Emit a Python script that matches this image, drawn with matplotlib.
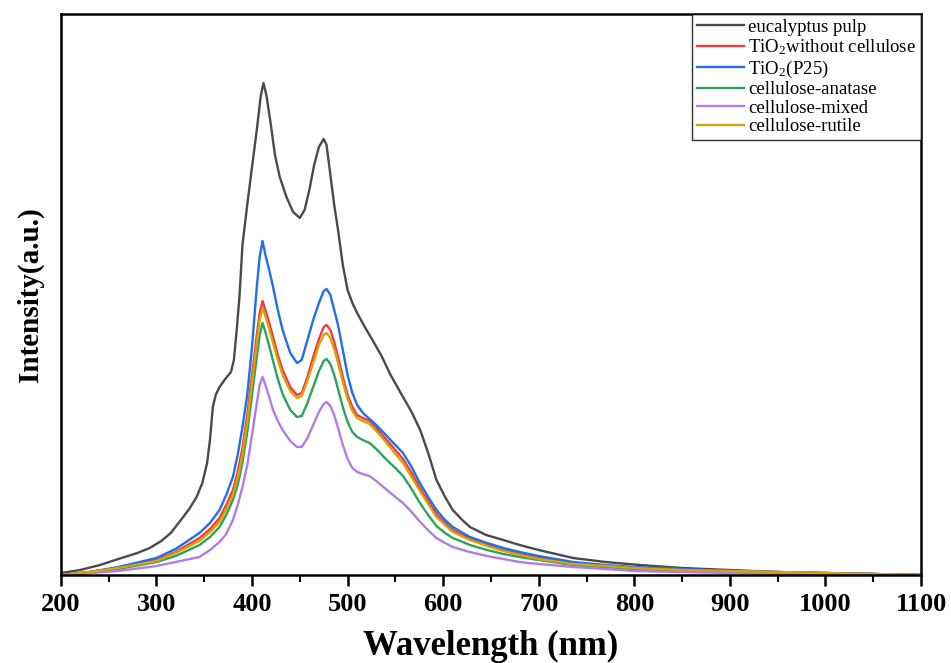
import numpy as np
import matplotlib
matplotlib.use('Agg')
import matplotlib.pyplot as plt
from matplotlib.ticker import MultipleLocator

# ---- data (intensity in arbitrary units) ----
wl_pulp = [200, 220, 241, 260, 280, 293, 305, 315, 328, 335, 342, 348, 353, 356, 359,
           362, 366, 372, 378, 381, 384, 387, 390, 395, 400, 405, 409, 412, 415, 419,
           424, 429, 436, 443, 450, 455, 460, 465, 470, 475, 478, 482, 486, 490, 495,
           500, 505, 510, 518, 526, 535, 545, 558, 567, 576, 585, 593, 602, 610, 620,
           628, 645, 663, 680, 700, 736, 770, 806, 850, 900, 950, 1000, 1050, 1100]
pulp = [2, 5, 10, 16, 22, 27, 34, 42, 58, 67, 78, 92, 112, 135, 168,
        180, 188, 196, 203, 215, 245, 280, 330, 370, 408, 445, 478, 492, 480, 455,
        420, 398, 378, 363, 357, 365, 385, 410, 428, 436, 430, 400, 370, 345, 310,
        285, 272, 262, 248, 235, 220, 200, 178, 163, 145, 120, 95, 78, 65, 55,
        48, 40, 35, 30, 25, 17, 13, 10, 7, 5, 3, 2, 1, 0]

wl = [200, 230, 260, 300, 320, 345, 356, 366, 373, 380, 385, 390, 395, 400, 405,
      408, 411, 414, 418, 422, 427, 432, 440, 447, 452, 458, 464, 470, 475, 478,
      482, 486, 490, 495, 500, 505, 510, 516, 523, 530, 540, 550, 558, 567, 575,
      585, 593, 602, 610, 628, 646, 663, 680, 700, 736, 770, 800, 850, 900, 950,
      1000, 1050, 1100]
tio2_nocell = [0, 3, 7, 15, 23, 37, 46, 57, 70, 85, 103, 127, 160, 200, 240,
               262, 274, 265, 252, 238, 220, 205, 188, 180, 182, 198, 218, 236, 248, 250,
               245, 233, 218, 198, 180, 168, 160, 157, 154, 147, 136, 125, 116, 102, 88,
               73, 61, 52, 45, 36, 30, 25, 21, 17, 12, 9, 7, 5, 4, 3,
               2, 1, 0]
tio2_p25 = [0, 3, 8, 17, 26, 42, 52, 65, 80, 98, 120, 148, 180, 228, 288,
            318, 334, 320, 305, 288, 265, 245, 222, 212, 215, 235, 255, 272, 284, 286,
            280, 265, 250, 225, 200, 182, 170, 162, 156, 150, 140, 130, 122, 108, 93,
            77, 65, 55, 48, 38, 32, 27, 23, 19, 13, 10, 8, 6, 4, 3,
            2, 1, 0]
cell_anatase = [0, 2, 6, 13, 19, 30, 38, 48, 60, 75, 90, 112, 143, 180, 218,
                240, 252, 243, 229, 214, 196, 181, 165, 158, 159, 172, 188, 204, 214, 216,
                211, 200, 186, 168, 153, 143, 138, 135, 132, 126, 116, 107, 99, 86, 73,
                59, 49, 42, 37, 30, 25, 21, 18, 15, 10, 8, 6, 4, 3, 2,
                1, 1, 0]
cell_mixed = [0, 2, 4, 9, 13, 18, 25, 33, 41, 55, 70, 88, 110, 140, 172,
              190, 198, 190, 178, 165, 154, 145, 134, 128, 128, 137, 150, 163, 171, 173,
              169, 160, 147, 130, 116, 107, 103, 101, 99, 94, 86, 78, 72, 63, 54,
              44, 37, 32, 28, 23, 19, 16, 13, 11, 8, 6, 4, 3, 2, 1,
              1, 0, 0]
cell_rutile = [0, 3, 7, 14, 22, 34, 43, 53, 66, 80, 97, 120, 153, 192, 232,
               255, 267, 259, 246, 232, 215, 200, 184, 177, 179, 194, 212, 230, 240, 242,
               237, 226, 212, 193, 176, 164, 157, 154, 151, 144, 133, 121, 112, 98, 85,
               70, 58, 50, 43, 35, 29, 24, 20, 16, 11, 9, 7, 5, 4, 3,
               2, 1, 0]

labels = ['eucalyptus pulp', r'TiO$_\mathregular{2}$without cellulose',
          r'TiO$_\mathregular{2}$(P25)', 'cellulose-anatase',
          'cellulose-mixed', 'cellulose-rutile']
colors = ['#4a4a4a', '#f03c3c', '#1f6fe8', '#2ca25f', '#b27ce6', '#d9a20a']

plt.rcParams.update({
    'font.family': 'Liberation Serif',
    'mathtext.fontset': 'stix',
})

fig = plt.figure(figsize=(9.51, 6.63), dpi=100)
ax = fig.add_axes([0.064, 0.1327, 0.9045, 0.8463])

series = [(wl_pulp, pulp), (wl, tio2_nocell), (wl, tio2_p25),
          (wl, cell_anatase), (wl, cell_mixed), (wl, cell_rutile)]
for (x, y), lab, c in zip(series, labels, colors):
    ax.plot(x, y, color=c, lw=1.7, label=lab, solid_joinstyle='round')

ax.set_xlim(200, 1100)
ax.set_ylim(0, 561)
ax.xaxis.set_major_locator(MultipleLocator(100))
ax.xaxis.set_minor_locator(MultipleLocator(50))
ax.set_yticks([])
ax.tick_params(axis='x', which='major', direction='out', length=8, width=1.8,
               labelsize=19, pad=5)
ax.tick_params(axis='x', which='minor', direction='out', length=5, width=1.5)
for lbl in ax.get_xticklabels():
    lbl.set_fontweight('bold')
for s in ax.spines.values():
    s.set_linewidth(1.8)

ax.set_xlabel('Wavelength (nm)', fontsize=25, fontweight='bold', labelpad=10)
ax.set_ylabel('Intensity(a.u.)', fontsize=21, fontweight='bold', labelpad=12)

leg = ax.legend(loc='upper right', borderaxespad=0, fontsize=13.5, frameon=True,
                fancybox=False, edgecolor='black', handlelength=2.5,
                handletextpad=0.25, labelspacing=0.08, borderpad=0.25)
leg.get_frame().set_linewidth(1.0)

plt.savefig('out.png', dpi=100)
